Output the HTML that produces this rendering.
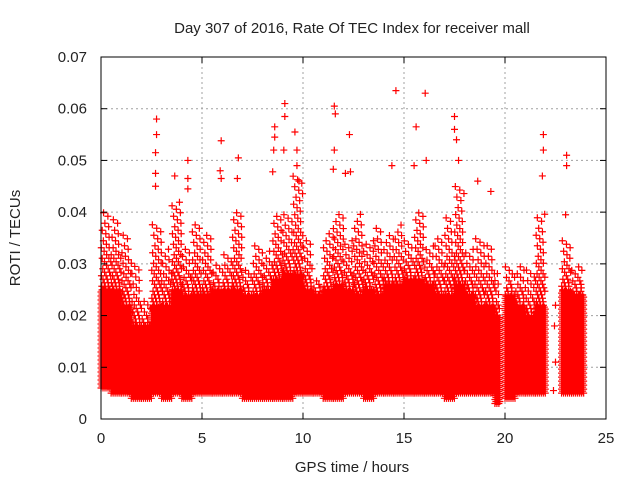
<!DOCTYPE html>
<html><head><meta charset="utf-8"><style>
body{margin:0;background:#fff}
svg text{font-family:"Liberation Sans",sans-serif;fill:#222}
</style></head><body>
<svg id="c" width="640" height="480" viewBox="0 0 640 480" xmlns="http://www.w3.org/2000/svg">
<rect width="640" height="480" fill="#fff"/>
<text x="352" y="33" font-size="15" text-anchor="middle">Day 307 of 2016, Rate Of TEC Index for receiver mall</text>
<text x="352" y="472" font-size="15" text-anchor="middle">GPS time / hours</text>
<text x="20" y="238" font-size="15" text-anchor="middle" transform="rotate(-90 20 238)">ROTI / TECUs</text>
<g id="grid"></g>
<g id="marks"></g>
<g id="axes"></g>
</svg>
<script>
const binStart=[0,0.5,1,1.5,2,2.5,3,3.5,4,4.5,5,5.5,6,6.5,7,7.5,8,8.5,9,9.5,10,10.5,11,11.5,12,12.5,13,13.5,14,14.5,15,15.5,16,16.5,17,17.5,18,18.5,19,19.5,20,20.5,21,21.5,22.8,23.3];
const binEnd=[0.5,1,1.5,2,2.5,3,3.5,4,4.5,5,5.5,6,6.5,7,7.5,8,8.5,9,9.5,10,10.5,11,11.5,12,12.5,13,13.5,14,14.5,15,15.5,16,16.5,17,17.5,18,18.5,19,19.5,19.75,20.5,21,21.5,22,23.3,23.9];
const lowVal=[.006,.005,.005,.004,.004,.005,.004,.005,.004,.005,.005,.005,.005,.005,.004,.004,.004,.004,.004,.005,.005,.005,.004,.004,.005,.005,.004,.005,.005,.005,.005,.005,.005,.005,.004,.005,.005,.005,.005,.003,.004,.005,.005,.005,.005,.005];
const denseTop=[.025,.025,.022,.018,.018,.022,.022,.025,.024,.024,.024,.025,.025,.025,.024,.024,.025,.027,.028,.028,.025,.024,.025,.026,.025,.024,.025,.024,.026,.026,.027,.027,.026,.024,.024,.026,.024,.022,.022,.02,.024,.022,.02,.022,.025,.024];
const sparseTop=[.04,.039,.036,.030,.023,.038,.033,.042,.033,.038,.036,.030,.032,.040,.030,.034,.033,.040,.040,.047,.035,.028,.036,.040,.035,.040,.035,.037,.036,.038,.035,.040,.034,.036,.039,.045,.033,.035,.034,.03,.030,.030,.029,.040,.035,.030];
const outX=[2.75,2.75,2.7,2.7,2.7,3.65,4.3,4.3,4.3,5.95,5.9,5.95,6.8,6.75,8.5,8.6,8.6,8.55,9.1,9.1,9.05,9.6,9.7,11.55,11.6,11.55,11.5,12.3,12.35,12.1,14.6,14.4,15.6,15.5,16.05,16.1,17.5,17.5,17.6,17.7,18.65,19.3,21.9,21.9,21.85,23.05,23.05,23.0,22.5,22.45,22.5,22.4,9.7,9.8];
const outY=[.058,.055,.0515,.0475,.045,.047,.050,.0465,.0445,.0538,.048,.0465,.0505,.0465,.0478,.0565,.0545,.052,.061,.0585,.052,.0555,.052,.0605,.059,.052,.0483,.055,.0478,.0475,.0635,.049,.0565,.049,.063,.050,.0585,.056,.054,.050,.046,.044,.055,.052,.047,.051,.049,.0395,.022,.018,.011,.0055,.049,.046];
const xTicks=[0,5,10,15,20,25];
const yTicks=[0,0.01,0.02,0.03,0.04,0.05,0.06,0.07];
const L=101,R=606,T=57,B=419;
const sx=v=>L+(v/25)*(R-L), sy=v=>B-(v/0.07)*(B-T);
const NS="http://www.w3.org/2000/svg";
const grid=document.getElementById('grid'),axes=document.getElementById('axes'),marks=document.getElementById('marks');
function mk(tag,attrs,parent){const e=document.createElementNS(NS,tag);for(const k in attrs)e.setAttribute(k,attrs[k]);parent.appendChild(e);return e;}
xTicks.forEach(t=>{const x=sx(t);
 if(t>0&&t<25){const g=mk('line',{x1:x,x2:x,y1:T,y2:B,stroke:'#a0a0a0','stroke-dasharray':'2,3'},grid);}
 const tx=mk('text',{x:x,y:B+24,'font-size':15,'text-anchor':'middle'},axes);tx.textContent=t;
 
 
 mk('line',{x1:x,x2:x,y1:B,y2:B-6,stroke:'#000'},axes);mk('line',{x1:x,x2:x,y1:T,y2:T+6,stroke:'#000'},axes);});
yTicks.forEach(t=>{const y=sy(t);
 if(t>0&&t<0.07){const g=mk('line',{x1:L,x2:R,y1:y,y2:y,stroke:'#a0a0a0','stroke-dasharray':'2,3'},grid);}
 const tx=mk('text',{x:L-14,y:y+5,'font-size':15,'text-anchor':'end'},axes);tx.textContent=t===0?'0':t.toFixed(2);
 
 
 mk('line',{x1:L,x2:L+6,y1:y,y2:y,stroke:'#000'},axes);mk('line',{x1:R,x2:R-6,y1:y,y2:y,stroke:'#000'},axes);});
const fr=mk('rect',{x:L,y:T,width:R-L,height:B-T,fill:'none',stroke:'#000'},axes);


function plus(x,y){return 'M'+(x-3.5)+' '+y+'h7M'+x+' '+(y-3.5)+'v7';}
let rowCount=0;
for(let i=0;i<binStart.length;i++){
 let d='';const x0=sx(binStart[i]),x1=sx(binEnd[i]);
 const yl=sy(lowVal[i]),yd=sy(denseTop[i]),ys=sy(sparseTop[i]);
 let r=0;
 for(let y=yl;y>=yd;y-=2,r++){for(let x=x0+(r%2);x<=x1;x+=2)d+=plus(x,y);}
 const span=Math.max(1,yd-ys);
 for(let y=yd;y>=ys;y-=3.5){
   rowCount++;
   const f=(yd-y)/span; const st=3+f*9;
   const off=((rowCount*0.618034)%1)*st;
   for(let x=x0+off;x<=x1;x+=st)d+=plus(x,y);}
 const p=mk('path',{d:d,stroke:'#f00','stroke-width':1.2,fill:'none'},marks);
 
 
}
let od='';for(let i=0;i<outX.length;i++)od+=plus(sx(outX[i]),sy(outY[i]));
const op=mk('path',{d:od,stroke:'#f00','stroke-width':1.2,fill:'none'},marks);


</script>
</body></html>
